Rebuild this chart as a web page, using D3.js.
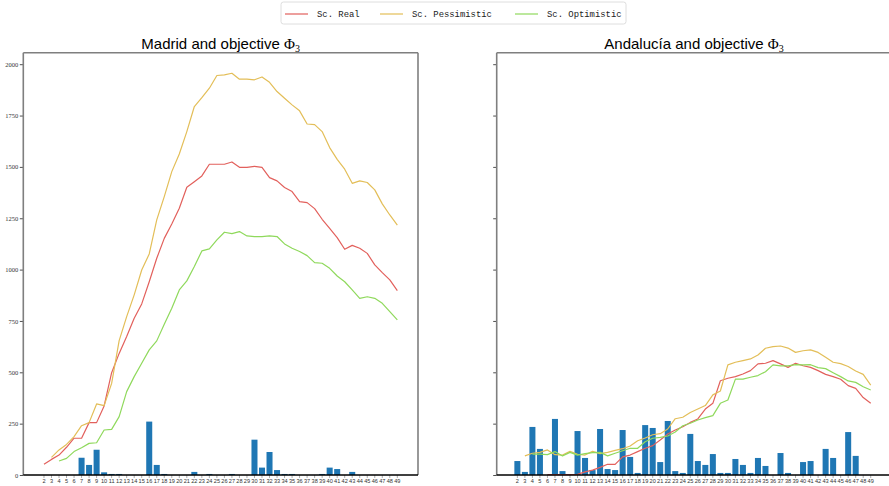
<!DOCTYPE html>
<html>
<head>
<meta charset="utf-8">
<script src="https://cdn.jsdelivr.net/npm/d3@7"></script>
<style>
  html, body { margin: 0; padding: 0; background: #fff; }
  svg { display: block; }
</style>
</head>
<body>
<svg id="chart" width="889" height="486"></svg>
<script>
const categories = ["2","3","4","5","6","7","8","9","10","11","12","13","14","15","16","17","18","19","20","21","22","23","24","25","26","27","28","29","30","31","32","33","34","35","36","37","38","39","40","41","42","43","44","45","46","47","48","49"];
const yTicks = [0, 250, 500, 750, 1000, 1250, 1500, 1750, 2000];
const seriesNames = ["Sc. Real", "Sc. Pessimistic", "Sc. Optimistic"];
const panelTitles = ["Madrid and objective ", "Andalucía and objective "];

const madridReal = [52,76,97,135,179,179,255,255,336,498,592,674,763,833,941,1055,1152,1222,1299,1401,1428,1456,1513,1513,1513,1524,1498,1498,1503,1498,1448,1432,1400,1380,1331,1326,1297,1245,1201,1156,1099,1118,1104,1079,1023,985,950,898];
const madridPess = [null,86,122,149,187,240,255,346,338,446,654,771,877,998,1076,1242,1355,1477,1563,1672,1794,1837,1883,1945,1948,1956,1927,1927,1924,1938,1912,1867,1834,1802,1773,1709,1706,1672,1594,1537,1489,1420,1432,1424,1388,1320,1266,1217];
const madridOpt = [null,null,68,81,114,133,154,157,219,222,284,406,479,544,609,653,734,812,901,945,1015,1091,1101,1145,1182,1175,1185,1164,1161,1161,1164,1161,1125,1104,1088,1068,1034,1031,1006,969,941,901,860,868,860,836,795,755];
const madridBars = [0,0,0,0,0,84,49,123,13,5,5,0,0,0,260,49,5,0,0,0,15,0,5,0,0,5,0,0,172,36,112,24,5,5,0,0,0,5,36,29,0,15,0,0,0,0,0,0];

const andaluciaReal = [null,null,null,null,2,2,2,2,3,15,24,37,52,52,88,97,114,130,143,170,200,219,235,256,273,321,349,459,471,479,492,508,541,544,557,541,524,544,532,524,508,490,479,466,435,422,377,349];
const andaluciaPess = [null,93,106,110,122,99,97,115,101,97,115,104,110,120,128,141,167,180,196,201,224,274,281,304,321,338,390,409,536,549,557,565,584,617,625,628,618,597,605,609,597,573,549,542,528,506,490,438];
const andaluciaOpt = [null,null,102,102,99,114,93,110,97,104,109,110,93,106,118,130,130,162,179,183,190,209,240,252,268,279,289,349,365,467,467,476,484,503,536,531,531,537,536,537,523,518,498,479,458,451,430,414];
const andaluciaBars = [68,15,234,127,0,273,19,0,214,83,24,224,29,24,219,88,10,243,229,63,263,19,10,200,68,49,102,10,10,78,49,10,83,44,0,107,10,0,63,68,0,127,83,0,209,93,0,0];

const colors = ["#e2605c", "#e3be58", "#8fd95c"];
const barColor = "#1f77b4";

const svg = d3.select("#chart");
const y = d3.scaleLinear().domain([0, 2056]).range([475, 52.7]);

const panels = [
  {x0: 23.3, x1: 418, title: panelTitles[0], series: [madridReal, madridPess, madridOpt], bars: madridBars, yLabels: true},
  {x0: 496.7, x1: 891.4, title: panelTitles[1], series: [andaluciaReal, andaluciaPess, andaluciaOpt], bars: andaluciaBars, yLabels: false}
];

panels.forEach(p => {
  const x = d3.scaleBand().domain(categories).range([p.x0, p.x1]).paddingInner(0.2).paddingOuter(2.35);
  const g = svg.append("g");

  // bars
  g.selectAll("rect.bar").data(p.bars).join("rect")
    .attr("class", "bar")
    .attr("x", (d, i) => x(categories[i]))
    .attr("width", x.bandwidth())
    .attr("y", d => y(d))
    .attr("height", d => y(0) - y(d))
    .attr("fill", barColor);

  // lines
  p.series.forEach((s, k) => {
    const line = d3.line()
      .defined(d => d != null)
      .x((d, i) => x(categories[i]) + x.bandwidth() / 2)
      .y(d => y(d));
    g.append("path").datum(s)
      .attr("d", line)
      .attr("fill", "none")
      .attr("stroke", colors[k])
      .attr("stroke-width", 1.2)
      .attr("stroke-linejoin", "round");
  });

  // x axis
  const xa = g.append("g").attr("transform", `translate(0,${y(0)})`)
    .call(d3.axisBottom(x).tickSize(3).tickPadding(1.5));
  xa.select(".domain").remove();
  xa.selectAll(".tick line").attr("stroke", "#888").attr("stroke-width", 0.7);
  xa.selectAll(".tick text").attr("font-family", "Liberation Sans, Arial, sans-serif")
    .attr("font-size", "5.6px").attr("fill", "#333");

  // y axis
  const ya = g.append("g").attr("transform", `translate(${p.x0},0)`)
    .call(d3.axisLeft(y).tickValues(yTicks).tickSize(3.5).tickPadding(1.5)
      .tickFormat(p.yLabels ? d3.format("d") : () => ""));
  ya.select(".domain").remove();
  ya.selectAll(".tick line").attr("stroke", "#222").attr("stroke-width", 0.8);
  ya.selectAll(".tick text").attr("font-family", "Liberation Serif, DejaVu Serif, serif")
    .attr("font-size", "6.5px").attr("fill", "#333");

  // spines
  const top = 52.7, bottom = y(0);
  g.append("line").attr("x1", p.x0).attr("x2", p.x0).attr("y1", top).attr("y2", bottom)
    .attr("stroke", "#7f7f7f").attr("stroke-width", 1.6);
  g.append("line").attr("x1", p.x1).attr("x2", p.x1).attr("y1", top).attr("y2", bottom)
    .attr("stroke", "#7f7f7f").attr("stroke-width", 1.6);
  g.append("line").attr("x1", p.x0).attr("x2", p.x1).attr("y1", top).attr("y2", top)
    .attr("stroke", "#7f7f7f").attr("stroke-width", 1.6);
  g.append("line").attr("x1", p.x0).attr("x2", p.x1).attr("y1", bottom).attr("y2", bottom)
    .attr("stroke", "#000").attr("stroke-width", 1.4);

  // title
  const t = g.append("text")
    .attr("x", (p.x0 + p.x1) / 2).attr("y", 49)
    .attr("text-anchor", "middle")
    .attr("font-family", "Liberation Sans, Arial, sans-serif")
    .attr("font-size", "15px").attr("fill", "#000");
  t.append("tspan").text(p.title);
  t.append("tspan").attr("font-family", "Liberation Serif, DejaVu Serif, serif").text("Φ");
  t.append("tspan").attr("font-family", "Liberation Serif, DejaVu Serif, serif")
    .attr("font-size", "10px").attr("dy", 3).text("3");
});

// legend
const lg = svg.append("g");
lg.append("rect").attr("x", 281).attr("y", 2).attr("width", 345).attr("height", 22)
  .attr("rx", 2.5).attr("fill", "#fff").attr("stroke", "#d5d5d5").attr("stroke-width", 0.8);
const legendX = [285, 380, 515];
seriesNames.forEach((name, k) => {
  lg.append("line").attr("x1", legendX[k]).attr("x2", legendX[k] + 23)
    .attr("y1", 14).attr("y2", 14)
    .attr("stroke", colors[k]).attr("stroke-width", 1.2);
  lg.append("text").attr("x", legendX[k] + 32).attr("y", 17.3)
    .attr("font-family", "Liberation Mono, DejaVu Sans Mono, monospace")
    .attr("font-size", "8.9px").attr("fill", "#222").text(name);
});
</script>
</body>
</html>
